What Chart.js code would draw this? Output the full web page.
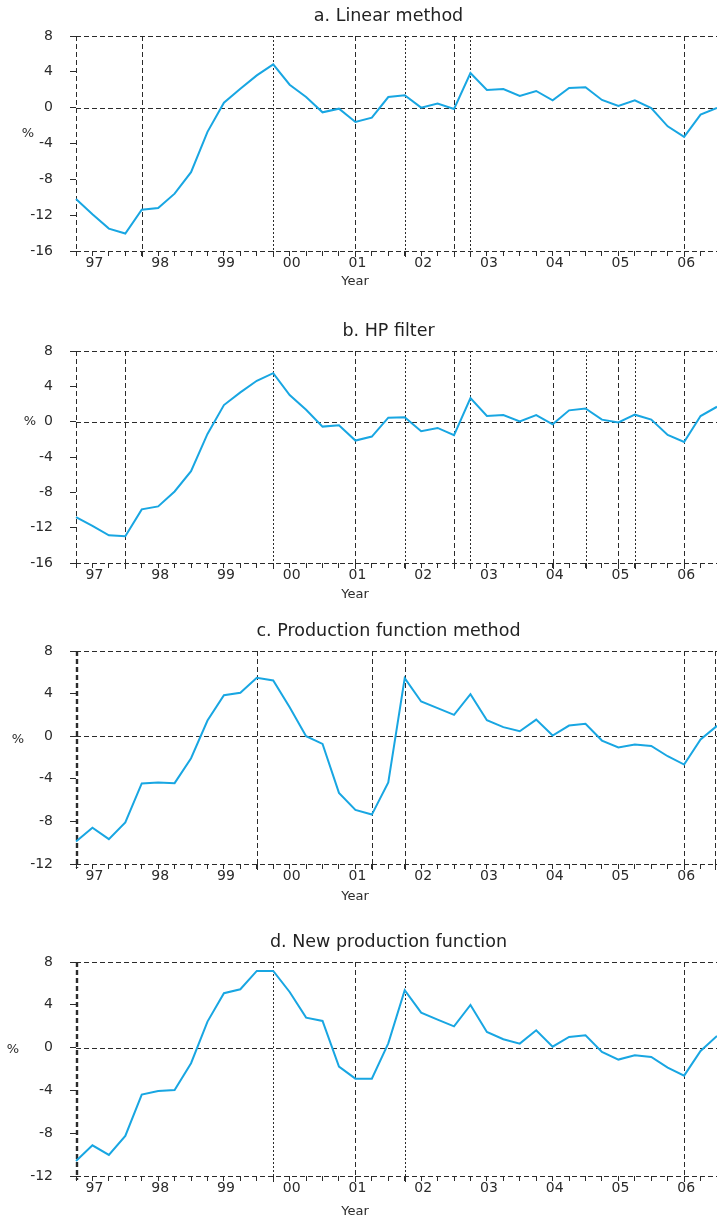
<!DOCTYPE html>
<html>
<head>
<meta charset="utf-8">
<title>Output gap estimates</title>
<script src="https://cdn.jsdelivr.net/npm/chart.js@4.4.1/dist/chart.umd.min.js"></script>
<style>
  html, body { margin: 0; padding: 0; background: #fff; }
  body { width: 717px; height: 1221px; position: relative; overflow: hidden; }
  .panel { position: absolute; left: 0; width: 717px; }
  .panel canvas { display: block; }
</style>
</head>
<body>
<div class="panel" id="panelA"><canvas id="chartA"></canvas></div>
<div class="panel" id="panelB"><canvas id="chartB"></canvas></div>
<div class="panel" id="panelC"><canvas id="chartC"></canvas></div>
<div class="panel" id="panelD"><canvas id="chartD"></canvas></div>
<script>
// ─── Data (output gap, % of potential, quarterly 1996Q4 – 2006Q3) ─────────────
const QUARTERS = [
  '96Q4',
  '97Q1', '97Q2', '97Q3', '97Q4',
  '98Q1', '98Q2', '98Q3', '98Q4',
  '99Q1', '99Q2', '99Q3', '99Q4',
  '00Q1', '00Q2', '00Q3', '00Q4',
  '01Q1', '01Q2', '01Q3', '01Q4',
  '02Q1', '02Q2', '02Q3', '02Q4',
  '03Q1', '03Q2', '03Q3', '03Q4',
  '04Q1', '04Q2', '04Q3', '04Q4',
  '05Q1', '05Q2', '05Q3', '05Q4',
  '06Q1', '06Q2', '06Q3',
];

const PANEL_TITLES = [
  'a. Linear method',
  'b. HP filter',
  'c. Production function method',
  'd. New production function',
];
const X_TITLE = 'Year';
const Y_TITLE = '%';

const Y_TICKS_WIDE   = [-16, -12, -8, -4, 0, 4, 8];
const Y_TICKS_NARROW = [-12, -8, -4, 0, 4, 8];

const linearGap = [
  -10.2, -11.9, -13.5, -14.05, -11.4, -11.2, -9.6, -7.2, -2.7, 0.56,
  2.1, 3.6, 4.83, 2.56, 1.19, -0.52, -0.11, -1.6, -1.12, 1.19,
  1.38, 0.0, 0.45, -0.15, 3.87, 1.97, 2.08, 1.3, 1.86, 0.82,
  2.19, 2.27, 0.86, 0.19, 0.82, -0.04, -2.08, -3.27, -0.78, -0.04,
];
const hpGap = [
  -10.8, -11.8, -12.87, -12.98, -9.93, -9.59, -7.9, -5.6, -1.39, 1.88,
  3.31, 4.63, 5.49, 3.01, 1.35, -0.56, -0.41, -2.14, -1.69, 0.45,
  0.49, -1.09, -0.71, -1.54, 2.67, 0.64, 0.75, 0.04, 0.75, -0.3,
  1.28, 1.5, 0.23, -0.08, 0.79, 0.23, -1.5, -2.3, 0.64, 1.69,
];
const prodFnGap = [
  -9.89, -8.6, -9.67, -8.1, -4.44, -4.35, -4.41, -2.07, 1.47, 3.85,
  4.07, 5.48, 5.23, 2.72, 0.0, -0.72, -5.32, -6.92, -7.36, -4.35,
  5.45, 3.26, 2.63, 2.0, 3.94, 1.5, 0.85, 0.47, 1.56, 0.06,
  1.0, 1.16, -0.41, -1.06, -0.78, -0.91, -1.88, -2.66, -0.31, 0.97,
];
const newProdFnGap = [
  -10.59, -9.13, -10.03, -8.26, -4.39, -4.05, -3.96, -1.46, 2.43, 5.08,
  5.45, 7.17, 7.17, 5.2, 2.8, 2.49, -1.78, -2.9, -2.9, 0.4,
  5.36, 3.27, 2.62, 1.99, 3.99, 1.46, 0.78, 0.37, 1.62, 0.09,
  1.0, 1.15, -0.4, -1.12, -0.72, -0.87, -1.87, -2.62, -0.31, 1.09,
];

// turning points marked by vertical lines
const linearTurns      = ['97Q4', '99Q4', '01Q1', '01Q4', '02Q3', '02Q4', '06Q1'];
const linearTurnKinds  = ['trough', 'peak', 'trough', 'peak', 'trough', 'peak', 'trough'];
const hpTurns          = ['97Q3', '99Q4', '01Q1', '01Q4', '02Q3', '02Q4', '04Q1', '04Q3', '05Q1', '05Q2', '06Q1'];
const hpTurnKinds      = ['trough', 'peak', 'trough', 'peak', 'trough', 'peak', 'trough', 'peak', 'trough', 'peak', 'trough'];
const prodFnTurns      = ['99Q3', '01Q2', '01Q4', '06Q1', '06Q3'];
const prodFnTurnKinds  = ['peak', 'trough', 'peak', 'trough', 'peak'];
const newProdTurns     = ['99Q4', '01Q1', '01Q4', '06Q1'];
const newProdTurnKinds = ['peak', 'trough', 'peak', 'trough'];

// ─── Look ─────────────────────────────────────────────────────────────────────
const FONT      = '"DejaVu Sans", "Noto Sans", sans-serif';
const INK       = '#2b2b2b';
const LINE_BLUE = '#18a6e2';
const DASH_LONG = [5, 3];
const DASH_FINE = [2, 2];
const HEAD = 36;   // space above plot area for the title
const FOOT = 50;   // space below plot area for year labels + "Year"

const PANELS = [
  { canvas: 'chartA', box: 'panelA', title: PANEL_TITLES[0], data: linearGap,    yTicks: Y_TICKS_WIDE,
    turns: linearTurns,  kinds: linearTurnKinds,  top: 36,  bottom: 251,  pctX: 28, pctAt: -2.9, yearDy: 31, boldLeft: false, peakDash: DASH_FINE },
  { canvas: 'chartB', box: 'panelB', title: PANEL_TITLES[1], data: hpGap,        yTicks: Y_TICKS_WIDE,
    turns: hpTurns,      kinds: hpTurnKinds,      top: 351, bottom: 563,  pctX: 30, pctAt: 0,    yearDy: 32, boldLeft: false, peakDash: DASH_FINE },
  { canvas: 'chartC', box: 'panelC', title: PANEL_TITLES[2], data: prodFnGap,    yTicks: Y_TICKS_NARROW,
    turns: prodFnTurns,  kinds: prodFnTurnKinds,  top: 651, bottom: 864,  pctX: 18, pctAt: -0.3, yearDy: 33, boldLeft: true,  peakDash: DASH_LONG },
  { canvas: 'chartD', box: 'panelD', title: PANEL_TITLES[3], data: newProdFnGap, yTicks: Y_TICKS_NARROW,
    turns: newProdTurns, kinds: newProdTurnKinds, top: 962, bottom: 1176, pctX: 13, pctAt: -0.2, yearDy: 36, boldLeft: true,  peakDash: DASH_FINE },
];

// ─── Frame, zero line, turning-point lines and loose texts ────────────────────
const gapDecor = {
  id: 'gapDecor',
  beforeDatasetsDraw(chart, args, o) {
    const { ctx, chartArea: a, scales: { x, y } } = chart;
    const px = v => Math.round(v) + 0.5;
    const seg = (x1, y1, x2, y2, dash, w) => {
      ctx.beginPath();
      ctx.lineWidth = w || 1;
      ctx.setLineDash(dash);
      ctx.moveTo(x1, y1);
      ctx.lineTo(x2, y2);
      ctx.stroke();
    };
    ctx.save();
    ctx.strokeStyle = INK;

    const y0 = px(y.getPixelForValue(0));
    seg(a.left, px(a.top), a.right, px(a.top), DASH_LONG);
    seg(a.left, px(a.bottom), a.right, px(a.bottom), DASH_LONG);
    seg(a.left, y0, a.right, y0, DASH_LONG);

    if (o.boldLeft) seg(Math.round(a.left) + 1, a.top, Math.round(a.left) + 1, a.bottom + 4, DASH_LONG, 2.4);
    else seg(px(a.left), a.top, px(a.left), a.bottom, DASH_LONG);

    o.turns.forEach((q, i) => {
      const xx = Math.min(px(x.getPixelForValue(QUARTERS.indexOf(q))), Math.round(a.right) - 1.5);
      const dash = o.kinds[i] === 'peak' ? o.peakDash : DASH_LONG;
      seg(xx, a.top, xx, a.bottom, dash);
      seg(xx, a.bottom, xx, a.bottom + 6, []);
    });
    ctx.restore();
  },
  afterDraw(chart, args, o) {
    const { ctx, chartArea: a, scales: { y } } = chart;
    ctx.save();
    ctx.fillStyle = '#222';
    ctx.textAlign = 'center';
    ctx.textBaseline = 'middle';

    ctx.font = `17.5px ${FONT}`;
    ctx.fillText(o.title, 388.5, a.top - 19.5);

    ctx.fillStyle = INK;
    ctx.font = `13px ${FONT}`;
    ctx.fillText(X_TITLE, 355, a.bottom + o.yearDy);
    ctx.fillText(Y_TITLE, o.pctX, y.getPixelForValue(o.pctAt));
    ctx.restore();
  },
};

function renderPanel(p) {
  const height = HEAD + (p.bottom - p.top) + FOOT;
  const box = document.getElementById(p.box);
  box.style.top = (p.top - HEAD) + 'px';
  box.style.height = height + 'px';

  const canvas = document.getElementById(p.canvas);
  canvas.width = 717;
  canvas.height = height;
  canvas.style.width = '717px';
  canvas.style.height = height + 'px';

  const tickFont = { family: FONT, size: 14, lineHeight: 1 };

  return new Chart(canvas, {
    type: 'line',
    data: {
      labels: QUARTERS,
      datasets: [{
        data: p.data,
        borderColor: LINE_BLUE,
        borderWidth: 2,
        pointRadius: 0,
        tension: 0,
        fill: false,
      }],
    },
    plugins: [gapDecor],
    options: {
      responsive: false,
      animation: false,
      devicePixelRatio: 1,
      layout: { padding: { top: HEAD, left: 0, right: 0, bottom: 0 } },
      plugins: {
        legend: { display: false },
        tooltip: { enabled: false },
        title: { display: false },
        gapDecor: {
          title: p.title, turns: p.turns, kinds: p.kinds, peakDash: p.peakDash,
          boldLeft: p.boldLeft, pctX: p.pctX, pctAt: p.pctAt, yearDy: p.yearDy,
        },
      },
      scales: {
        x: {
          type: 'category',
          offset: false,
          border: { display: false },
          grid: {
            offset: false, drawOnChartArea: false, drawTicks: true,
            tickLength: 5, tickColor: INK, tickWidth: 1,
          },
          ticks: {
            autoSkip: false, maxRotation: 0, minRotation: 0,
            padding: 0, labelOffset: 2, color: INK, font: tickFont,
            callback: (v, i) => QUARTERS[i].endsWith('Q1') ? QUARTERS[i].slice(0, 2) : '',
          },
          afterFit: s => { s.height = FOOT; },
        },
        y: {
          min: p.yTicks[0],
          max: p.yTicks[p.yTicks.length - 1],
          afterBuildTicks: s => { s.ticks = p.yTicks.map(v => ({ value: v })); },
          border: { display: false },
          grid: {
            drawOnChartArea: false, drawTicks: true,
            tickLength: 10, tickColor: INK, tickWidth: 1,
            tickBorderDash: [6, 4], tickBorderDashOffset: 6,
          },
          ticks: { padding: 13, color: INK, font: tickFont },
          afterFit: s => { s.width = 76; },
        },
      },
    },
  });
}

PANELS.forEach(renderPanel);
</script>
</body>
</html>
